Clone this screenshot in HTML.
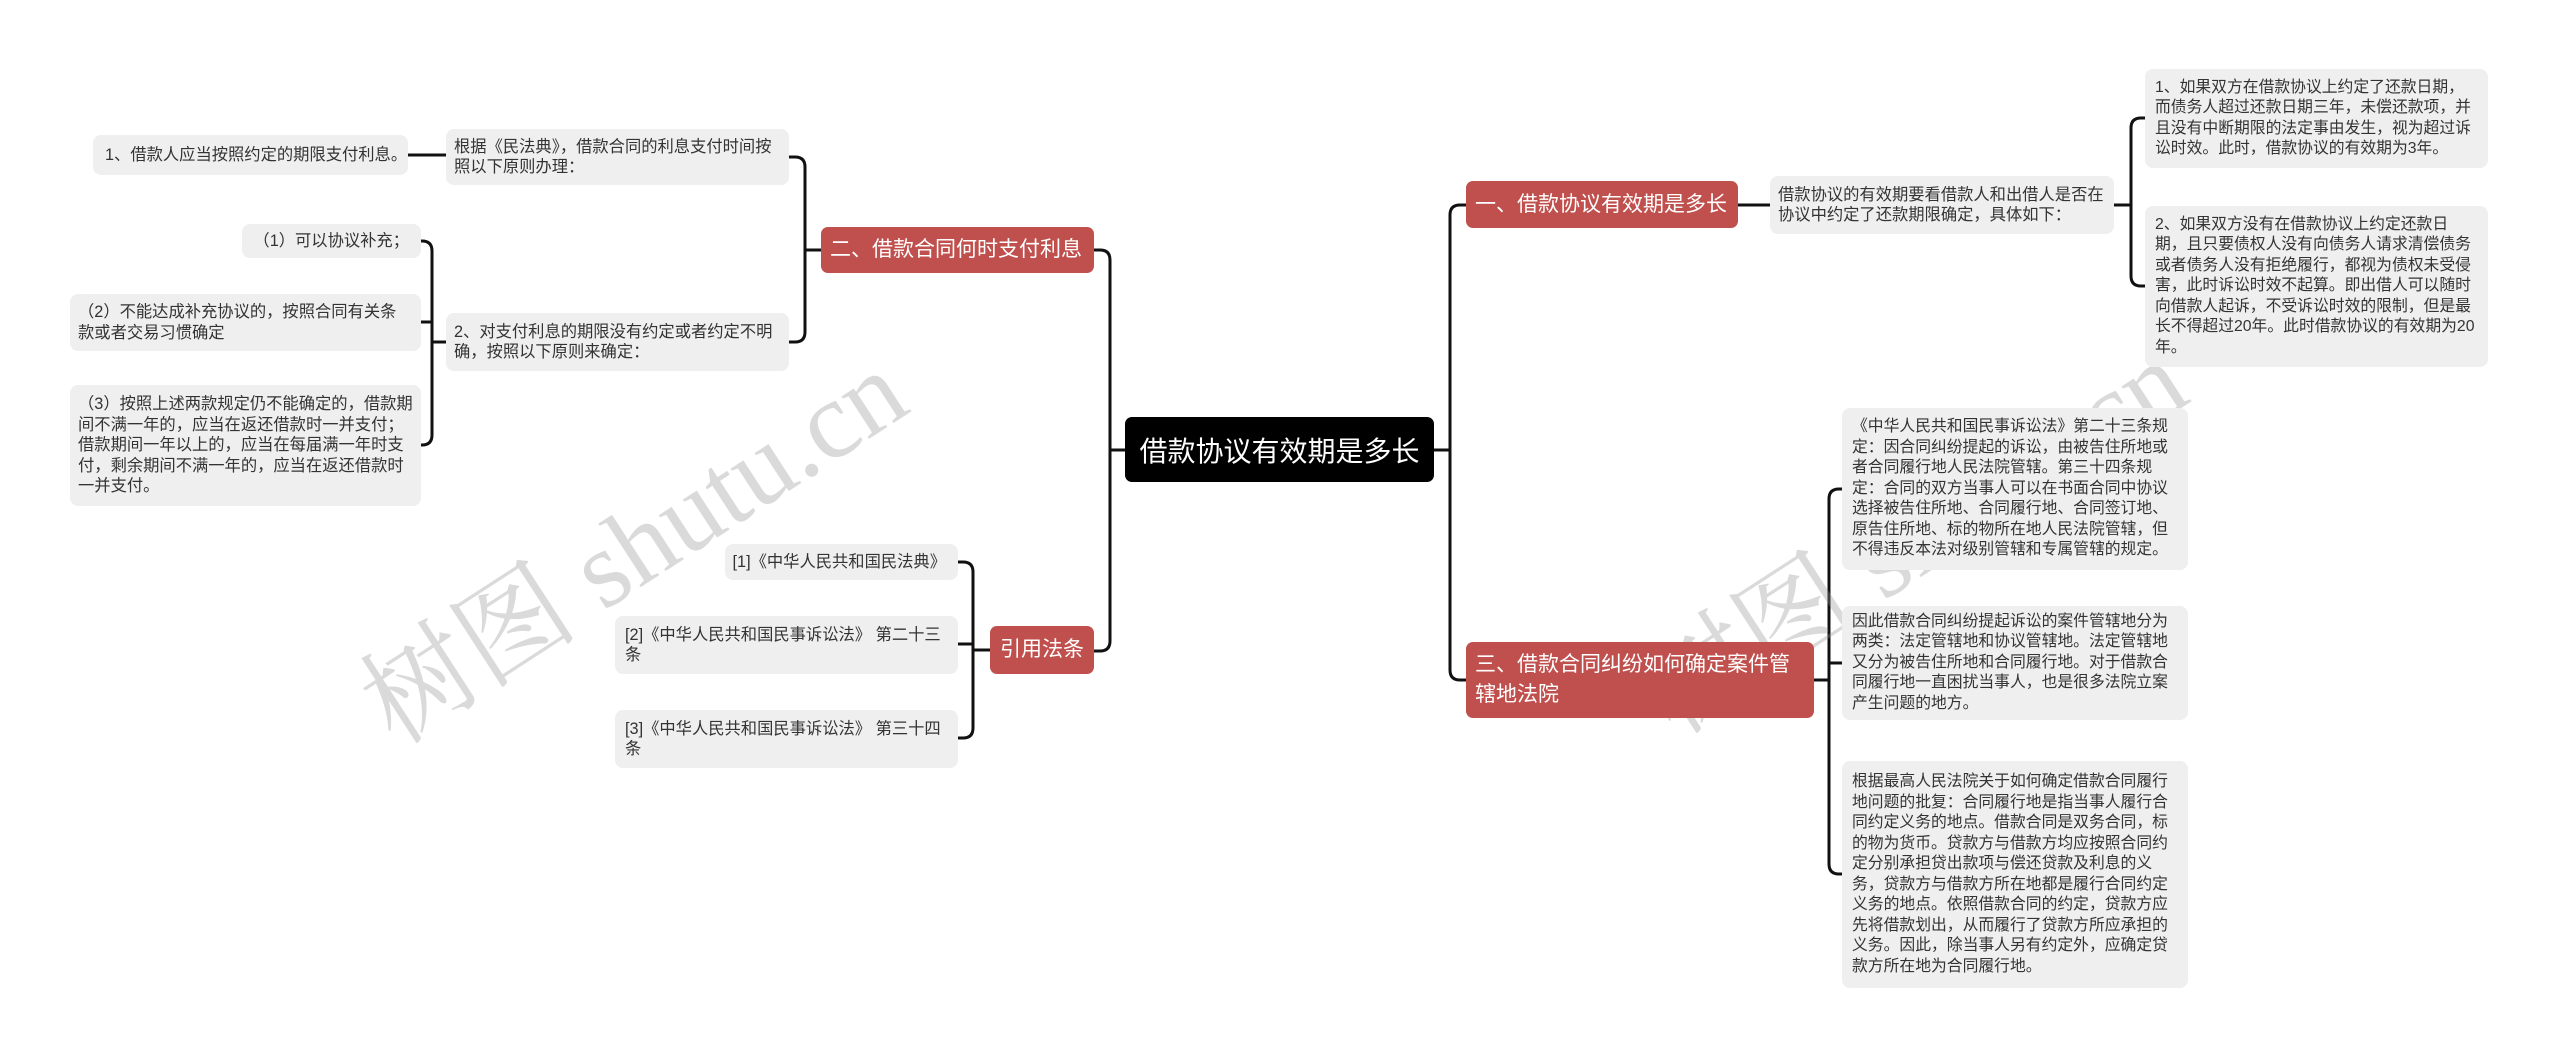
<!DOCTYPE html>
<html><head><meta charset="utf-8">
<style>
body{margin:0;width:2560px;height:1059px;background:#fff;position:relative;overflow:hidden;font-family:"Liberation Sans","Noto Sans CJK SC",sans-serif;}
.b{position:absolute;background:#efefef;border-radius:8px;color:#333;font-size:16.3px;line-height:20.5px;box-sizing:border-box;padding:0 12px;display:flex;align-items:center;word-break:break-all;}
.s{font-size:15.8px;padding:0 10px;}
.r{position:absolute;background:#c0504d;border-radius:7px;color:#fff;font-size:21px;box-sizing:border-box;padding:0 9px;display:flex;align-items:center;line-height:30px;}
.n{white-space:nowrap;}
.wm{position:absolute;color:rgba(150,150,150,0.35);font-family:"Liberation Serif","Noto Serif CJK SC",serif;font-size:110px;transform:rotate(-33deg);white-space:nowrap;}
</style></head><body>
<svg width="2560" height="1059" style="position:absolute;left:0;top:0" fill="none" stroke="#111" stroke-width="3">
<path d="M1434 450 H1450 M1466 205 H1460 Q1450 205 1450 215 V670 Q1450 680 1460 680 H1466"/>
<path d="M1125 450 H1110 M1094 250 H1100 Q1110 250 1110 260 V641 Q1110 651 1100 651 H1094"/>
<path d="M1738 205 H1770 M2114 205 H2131 M2145 118 H2141 Q2131 118 2131 128 V276 Q2131 286 2141 286 H2145"/>
<path d="M1814 680 H1829 M1842 489 H1839 Q1829 489 1829 499 V864 Q1829 874 1839 874 H1842 M1829 663 H1842"/>
<path d="M821 250 H805 M789 157 H795 Q805 157 805 167 V332 Q805 342 795 342 H789"/>
<path d="M446 155 H408"/>
<path d="M446 342 H432 M421 241 H422 Q432 241 432 251 V435 Q432 445 422 445 H421 M432 322 H421"/>
<path d="M990 650 H973 M958 562 H963 Q973 562 973 572 V728 Q973 738 963 738 H958 M973 644 H958"/>
</svg>

<div class="wm" style="left:320px;top:460px;">树图 shutu.cn</div>
<div class="wm" style="left:1600px;top:450px;">树图 shutu.cn</div>

<div style="position:absolute;left:1125px;top:417px;width:309px;height:65px;background:#000;border-radius:7px;color:#fff;font-size:28px;display:flex;align-items:center;justify-content:center;">借款协议有效期是多长</div>

<div class="r n" style="left:1466px;top:181px;width:272px;height:47px;">一、借款协议有效期是多长</div>
<div class="b" style="left:1770px;top:176px;width:344px;height:58px;padding:0 8px;">借款协议的有效期要看借款人和出借人是否在协议中约定了还款期限确定，具体如下：</div>
<div class="b s" style="left:2145px;top:69px;width:343px;height:99px;">1、如果双方在借款协议上约定了还款日期，而债务人超过还款日期三年，未偿还款项，并且没有中断期限的法定事由发生，视为超过诉讼时效。此时，借款协议的有效期为3年。</div>
<div class="b s" style="left:2145px;top:206px;width:343px;height:161px;">2、如果双方没有在借款协议上约定还款日期，且只要债权人没有向债务人请求清偿债务或者债务人没有拒绝履行，都视为债权未受侵害，此时诉讼时效不起算。即出借人可以随时向借款人起诉，不受诉讼时效的限制，但是最长不得超过20年。此时借款协议的有效期为20年。</div>

<div class="r" style="left:1466px;top:642px;width:348px;height:76px;">三、借款合同纠纷如何确定案件管辖地法院</div>
<div class="b s" style="left:1842px;top:408px;width:346px;height:162px;">《中华人民共和国民事诉讼法》第二十三条规定：因合同纠纷提起的诉讼，由被告住所地或者合同履行地人民法院管辖。第三十四条规定：合同的双方当事人可以在书面合同中协议选择被告住所地、合同履行地、合同签订地、原告住所地、标的物所在地人民法院管辖，但不得违反本法对级别管辖和专属管辖的规定。</div>
<div class="b s" style="left:1842px;top:606px;width:346px;height:114px;">因此借款合同纠纷提起诉讼的案件管辖地分为两类：法定管辖地和协议管辖地。法定管辖地又分为被告住所地和合同履行地。对于借款合同履行地一直困扰当事人，也是很多法院立案产生问题的地方。</div>
<div class="b s" style="left:1842px;top:761px;width:346px;height:227px;">根据最高人民法院关于如何确定借款合同履行地问题的批复：合同履行地是指当事人履行合同约定义务的地点。借款合同是双务合同，标的物为货币。贷款方与借款方均应按照合同约定分别承担贷出款项与偿还贷款及利息的义务，贷款方与借款方所在地都是履行合同约定义务的地点。依照借款合同的约定，贷款方应先将借款划出，从而履行了贷款方所应承担的义务。因此，除当事人另有约定外，应确定贷款方所在地为合同履行地。</div>

<div class="r n" style="left:821px;top:227px;width:273px;height:46px;">二、借款合同何时支付利息</div>
<div class="b" style="left:446px;top:129px;width:343px;height:56px;padding:0 8px;">根据《民法典》，借款合同的利息支付时间按照以下原则办理：</div>
<div class="b n" style="left:93px;top:135px;width:315px;height:40px;">1、借款人应当按照约定的期限支付利息。</div>
<div class="b" style="left:446px;top:313px;width:343px;height:58px;padding:0 8px;">2、对支付利息的期限没有约定或者约定不明确，按照以下原则来确定：</div>
<div class="b n" style="left:242px;top:224px;width:179px;height:34px;justify-content:flex-end;">（1）可以协议补充；</div>
<div class="b" style="left:70px;top:294px;width:351px;height:57px;padding:0 12px 0 8px;">（2）不能达成补充协议的，按照合同有关条款或者交易习惯确定</div>
<div class="b" style="left:70px;top:385px;width:351px;height:121px;padding:0 8px;">（3）按照上述两款规定仍不能确定的，借款期间不满一年的，应当在返还借款时一并支付；借款期间一年以上的，应当在每届满一年时支付，剩余期间不满一年的，应当在返还借款时一并支付。</div>

<div class="r n" style="left:990px;top:626px;width:104px;height:48px;justify-content:center;font-size:21px;padding:0;">引用法条</div>
<div class="b n" style="left:725px;top:544px;width:233px;height:36px;justify-content:flex-end;">[1]《中华人民共和国民法典》</div>
<div class="b" style="left:615px;top:616px;width:343px;height:58px;padding:0 10px 0 10px;">[2]《中华人民共和国民事诉讼法》 第二十三条</div>
<div class="b" style="left:615px;top:710px;width:343px;height:58px;padding:0 10px 0 10px;">[3]《中华人民共和国民事诉讼法》 第三十四条</div>
</body></html>
